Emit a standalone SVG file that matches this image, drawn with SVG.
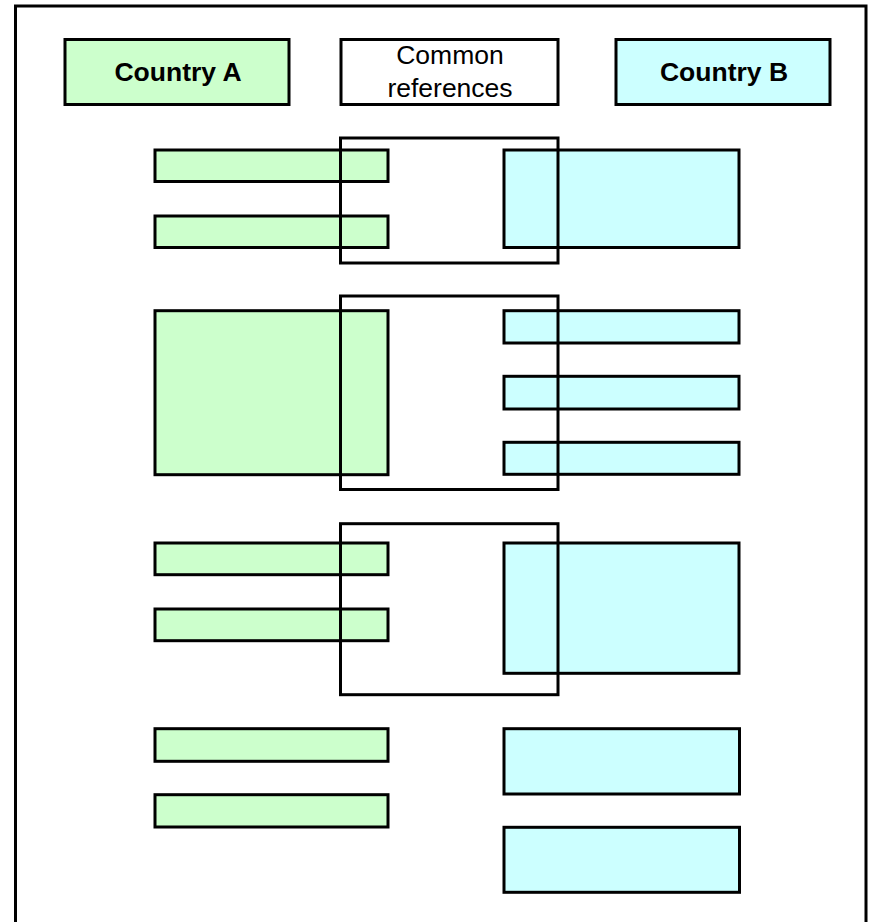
<svg xmlns="http://www.w3.org/2000/svg" width="878" height="922" viewBox="0 0 878 922">
<style>
.a{fill:#CCFFCC;stroke:#000;stroke-width:3}
.b{fill:#CCFFFF;stroke:#000;stroke-width:3}
.c{fill:none;stroke:#000;stroke-width:3}
.h{fill:#fff;stroke:#000;stroke-width:3}
.t{font-family:"Liberation Sans",Arial,sans-serif;font-size:26.5px;fill:#000;text-anchor:middle}
.tb{font-weight:bold}
</style>
<rect x="0" y="0" width="878" height="922" fill="#fff"/>
<rect id="frame" x="15.5" y="6" width="850.5" height="930" fill="none" stroke="#000" stroke-width="3"/>
<g id="countryA"><rect class="a" x="65" y="39.5" width="224" height="65"/><text class="t tb" x="178" y="81">Country A</text></g>
<g id="common"><rect class="h" x="341" y="39.5" width="217" height="65"/><text class="t" x="450" y="64">Common</text><text class="t" x="450" y="96.5">references</text></g>
<g id="countryB"><rect class="b" x="616" y="39.5" width="214" height="65"/><text class="t tb" x="724" y="81">Country B</text></g>
<g id="group1">
<rect class="a" x="155" y="150" width="233" height="31.5"/>
<rect class="a" x="155" y="216" width="233" height="31.5"/>
<rect class="b" x="504" y="150" width="235" height="97.5"/>
<rect class="c" x="340.5" y="138" width="217.5" height="125"/>
</g>
<g id="group2">
<rect class="a" x="155" y="310.7" width="233" height="164"/>
<rect class="b" x="504" y="310.7" width="235" height="32.3"/>
<rect class="b" x="504" y="376.3" width="235" height="32.7"/>
<rect class="b" x="504" y="442.3" width="235" height="32"/>
<rect class="c" x="340.5" y="296" width="217.5" height="193.5"/>
</g>
<g id="group3">
<rect class="a" x="155" y="543" width="233" height="31.7"/>
<rect class="a" x="155" y="609" width="233" height="31.7"/>
<rect class="b" x="504" y="543" width="235" height="130.3"/>
<rect class="c" x="340.5" y="523.7" width="217.5" height="171"/>
</g>
<g id="group4">
<rect class="a" x="155" y="728.7" width="233" height="32.6"/>
<rect class="a" x="155" y="794.7" width="233" height="32.3"/>
<rect class="b" x="504" y="728.7" width="235.5" height="65.3"/>
<rect class="b" x="504" y="827.3" width="235.5" height="65"/>
</g>
</svg>
